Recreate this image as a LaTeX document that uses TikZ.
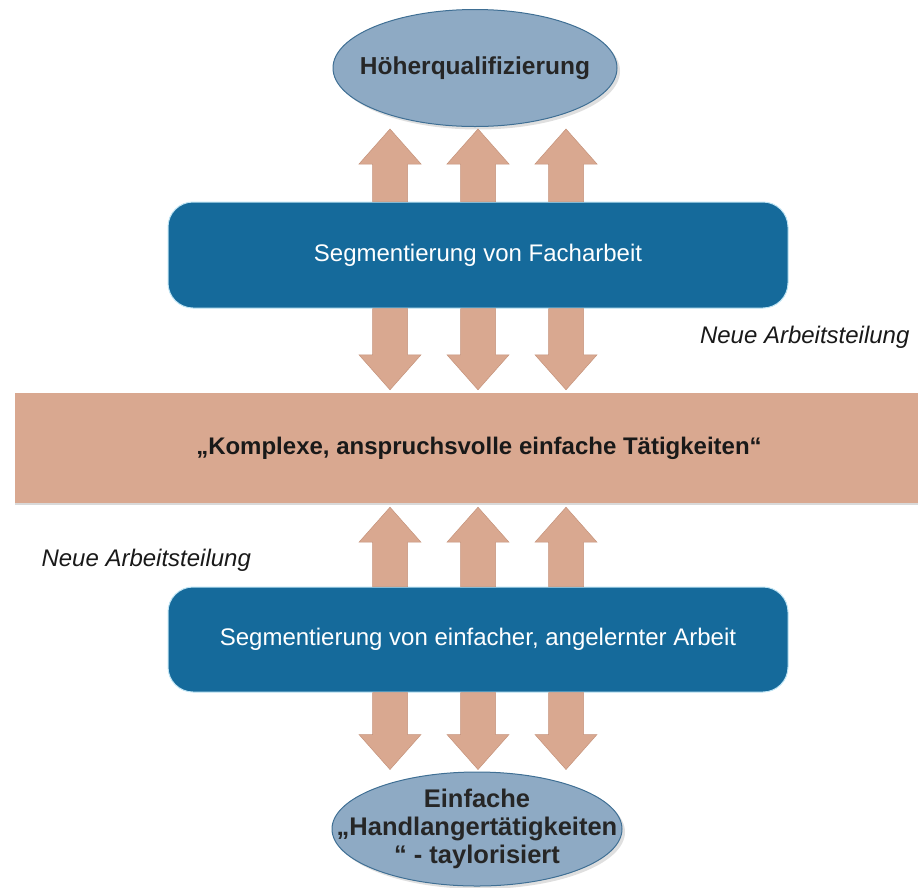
\documentclass[tikz,border=0pt]{standalone}
\usepackage{fontspec}
\setmainfont{Liberation Sans}
\usetikzlibrary{shapes.geometric,calc,shadows}

\definecolor{kastenblau}{HTML}{156A9B}
\definecolor{kastenrand}{HTML}{BFE4F4}
\definecolor{ovalblau}{HTML}{8EAAC4}
\definecolor{ovalrand}{HTML}{3F6F94}
\definecolor{lachs}{HTML}{D9A890}
\definecolor{lachsrand}{HTML}{C4927A}

\begin{document}
\begin{tikzpicture}[
  x=1pt, y=-1pt,
  every node/.style = {font=\fontsize{24}{29}\selectfont},
  kasten/.style = {shape=rectangle, rounded corners=25pt, fill=kastenblau,
    draw=kastenrand, line width=1pt, text=white,
    minimum width=620pt, minimum height=106pt},
  band/.style = {shape=rectangle, fill=lachs, text=black!90,
    minimum width=903pt, minimum height=110pt,
    font=\fontsize{24}{29}\selectfont\bfseries,
    drop shadow={opacity=0.3, shadow xshift=0pt, shadow yshift=-2pt}},
  oval/.style = {shape=ellipse, fill=ovalblau, draw=ovalrand, line width=1pt,
    inner sep=0pt,
    drop shadow={opacity=0.25, shadow xshift=3pt, shadow yshift=-3pt}},
  ovaltext/.style = {font=\fontsize{24.5}{28}\selectfont\bfseries,
    text=black!85, align=center},
  hinweis/.style = {font=\fontsize{24}{29}\selectfont\itshape, text=black!90},
  blockpfeil/.style = {fill=lachs, draw=lachsrand, line width=0.5pt,
    to path={let \p1=(\tikztostart), \p2=(\tikztotarget),
      \n1={(\y2>\y1)*2-1} in
      ({\x1-17.5pt},\y1) -- ({\x1-17.5pt},{\y2-\n1*35pt})
      -- ({\x1-31pt},{\y2-\n1*35pt}) -- (\x1,\y2)
      -- ({\x1+31pt},{\y2-\n1*35pt}) -- ({\x1+17.5pt},{\y2-\n1*35pt})
      -- ({\x1+17.5pt},\y1) -- cycle}}
  ]
  \useasboundingbox (0,0) rectangle (918,887);

  \node[oval, minimum width=284pt, minimum height=117pt,
    label={[ovaltext]center:Höherqualifizierung}] (hoeher) at (475,68) {};
  \node[kasten] (fach) at (478,255) {Segmentierung von Facharbeit};
  \node[band] (komplex) at (466.5,448)
    {\hspace*{25pt}„Komplexe, anspruchsvolle einfache Tätigkeiten“};
  \node[kasten, minimum height=105pt] (einfach) at (478,639.5)
    {Segmentierung von einfacher, angelernter Arbeit};
  \node[oval, minimum width=290pt, minimum height=114pt,
    label={[ovaltext, font=\fontsize{25.5}{28}\selectfont\bfseries]
      center:Einfache\\„Handlangertätigkeiten\\“ - taylorisiert}]
    (handlanger) at (477,829) {};

  \node[hinweis, anchor=east] (neu1) at (913,337) {Neue Arbeitsteilung};
  \node[hinweis, anchor=west] (neu2) at (38,560) {Neue Arbeitsteilung};

  % Pfeile zwischen den Ebenen
  \foreach \dx in {-88,0,88} {
    \draw[blockpfeil] ($(fach.north)+(\dx,0)$) to ($(hoeher.south)+(\dx,2)$);
    \draw[blockpfeil] ($(fach.south)+(\dx,0)$) to ($(komplex.north)+(\dx,-3)$);
    \draw[blockpfeil] ($(einfach.north)+(\dx,0)$) to ($(komplex.south)+(\dx,4)$);
    \draw[blockpfeil] ($(einfach.south)+(\dx,0)$) to ($(handlanger.north)+(\dx,-2)$);
  }
\end{tikzpicture}
\end{document}
